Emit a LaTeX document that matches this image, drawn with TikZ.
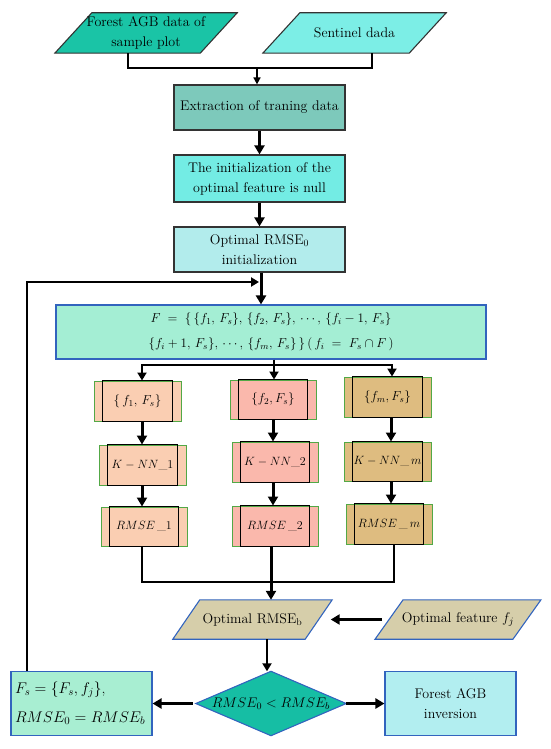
\RequirePackage{fix-cm}
\documentclass[tikz,border=0pt]{standalone}
\usepackage{fontspec}
\usetikzlibrary{arrows.meta,backgrounds}
\definecolor{cpa}{HTML}{1AC4A6}
\definecolor{csen}{HTML}{7CEEE6}
\definecolor{cext}{HTML}{7DC9BB}
\definecolor{cinit}{HTML}{73ECE4}
\definecolor{cro}{HTML}{B2ECEC}
\definecolor{cF}{HTML}{A4EED4}
\definecolor{cL}{HTML}{FACEB2}
\definecolor{cM}{HTML}{FAB8AC}
\definecolor{cR}{HTML}{DEBC80}
\definecolor{cpar}{HTML}{D6CEAA}
\definecolor{cdia}{HTML}{16BEA4}
\definecolor{cfs}{HTML}{A8EED2}
\definecolor{cfa}{HTML}{B2EEF0}
\definecolor{bblue}{HTML}{3264BE}
\definecolor{cgreen}{HTML}{52A846}
\definecolor{dgray}{HTML}{333333}
\begin{document}
\begin{tikzpicture}[x=1pt,y=-1pt,
  every node/.style={inner sep=0pt, align=center},
  tf/.style={font=\fontsize{14}{20}\selectfont},
  gbox/.style={tf, draw=dgray, line width=1.2pt},
  bbox/.style={draw=bblue, line width=1.1pt},
  colbox/.style={draw=cgreen, line width=1pt, minimum width=87pt, minimum height=40pt, font=\fontsize{12}{13}\selectfont},
  setf/.style={font=\fontsize{13}{14}\selectfont},
  parashape/.style={draw=dgray, line width=1.1pt},
  conn/.style={line width=2.6pt},
  arr/.style={line width=3pt, -{Triangle[length=9pt,width=10pt]}},
  marr/.style={line width=2.4pt, -{Triangle[length=8pt,width=9pt]}},
  tarr/.style={line width=1.6pt, -{Triangle[length=7pt,width=7pt]}}
]
\useasboundingbox (0,0) rectangle (550,749);

% top parallelograms
\node[tf, minimum width=145pt, minimum height=40pt] (p1) at (146,33) {Forest AGB data of\\sample plot};
\node[tf, minimum width=146pt, minimum height=40pt] (p2) at (354.5,33) {Sentinel dada};
\begin{scope}[on background layer]
\filldraw[fill=cpa, parashape] ([xshift=-18.5pt]p1.south west) -- ([xshift=18.5pt]p1.north west) -- ([xshift=18.5pt]p1.north east) -- ([xshift=-18.5pt]p1.south east) -- cycle;
\filldraw[fill=csen, parashape] ([xshift=-18.5pt]p2.south west) -- ([xshift=18.5pt]p2.north west) -- ([xshift=18.5pt]p2.north east) -- ([xshift=-18.5pt]p2.south east) -- cycle;
\end{scope}

% main column boxes
\node[gbox, fill=cext, minimum width=171pt, minimum height=45pt] (ext) at (259.5,107.5) {Extraction of traning data};
\node[gbox, fill=cinit, minimum width=171pt, minimum height=47pt] (init) at (259.5,178.5) {The initialization of the\\optimal feature is null};
\node[gbox, fill=cro, minimum width=171pt, minimum height=45pt] (ro) at (259.5,249.5) {Optimal RMSE\textsubscript{0}\\initialization};

\coordinate (j) at (257,68);
\draw[conn] ([xshift=-18pt]p1.south) |- (j) -| ([xshift=17.5pt]p2.south);
\draw[tarr] (j) -- (j |- ext.north);
\draw[arr] (ext) -- (init);
\draw[arr] (init) -- (ro);

% F box
\node[bbox, fill=cF, minimum width=430pt, minimum height=54pt, font=\fontsize{13}{25}\selectfont] (F) at (271,332)
 {$F\;=\;\{\,\{f_1,\,F_s\},\,\{f_2,\,F_s\},\,\cdots,\,\{f_i-1,\,F_s\}$\\
  $\{f_i+1,\,F_s\},\,\cdots,\,\{f_m,\,F_s\}\,\}\,(\,f_i\;=\;F_s\cap F\,)$};
\draw[arr] ([xshift=1.5pt]ro.south) -- ([xshift=1.5pt]ro.south |- F.north);

% column boxes
\node[colbox, setf, fill=cL] (l1) at (137.5,401) {$\{\,f_1,\,F_s\}$};
\node[colbox, fill=cL] (l2) at (142.5,465) {$K-NN\_1$};
\node[colbox, fill=cL, minimum height=39pt, minimum width=86pt] (l3) at (144,526.5) {$RMSE\,\_1$};
\node[colbox, setf, fill=cM, minimum width=86pt, minimum height=39pt] (m1) at (273,399.5) {$\{f_2,F_s\}$};
\node[colbox, fill=cM, minimum width=86pt] (m2) at (275,462) {$K-NN\_2$};
\node[colbox, fill=cM, minimum width=86pt] (m3) at (275,526) {$RMSE\,\_2$};
\node[colbox, setf, fill=cR] (r1) at (387.5,397) {$\{f_m,F_s\}$};
\node[colbox, fill=cR, minimum height=39pt] (r2) at (387.5,461.5) {$K-NN\_\,m$};
\node[colbox, fill=cR, minimum width=86pt] (r3) at (389,524) {$RMSE\,\_\,m$};
\foreach \n in {l1,l2,l3,m1,m2,m3,r1,r2,r3}
  \draw[black, line width=1.3pt] ([xshift=9pt]\n.south west) rectangle ([xshift=-9pt]\n.north east);

\coordinate (br) at (274,365);
\coordinate (cLx) at (142,0);
\coordinate (cMx) at (273,0);
\coordinate (cRx) at (391,0);
\draw[conn] ([xshift=3pt]F.south) -- (br);
\draw[marr] (br) -| ([xshift=4.5pt]l1.north);
\draw[marr] (br) -| ([xshift=4.5pt]r1.north);
\draw[marr] (br) -- (br |- m1.north);
\draw[arr] (l1.south -| cLx) -- (l2.north -| cLx);
\draw[arr] (l2.south -| cLx) -- (l3.north -| cLx);
\draw[arr] (m1.south -| cMx) -- (m2.north -| cMx);
\draw[arr] (m2.south -| cMx) -- (m3.north -| cMx);
\draw[arr] (r1.south -| cRx) -- (r2.north -| cRx);
\draw[arr] (r2.south -| cRx) -- (r3.north -| cRx);

% bottom parallelograms
\node[tf, minimum width=132pt, minimum height=39pt] (rb) at (252.5,619.5) {Optimal RMSE\textsubscript{b}};
\node[tf, minimum width=137.5pt, minimum height=39pt] (of) at (458,619.5) {Optimal feature $f_j$};
\begin{scope}[on background layer]
\filldraw[fill=cpar, draw=bblue, line width=1.1pt] ([xshift=-13.5pt]rb.south west) -- ([xshift=13.5pt]rb.north west) -- ([xshift=13.5pt]rb.north east) -- ([xshift=-13.5pt]rb.south east) -- cycle;
\filldraw[fill=cpar, draw=bblue, line width=1.1pt] ([xshift=-14pt]of.south west) -- ([xshift=14pt]of.north west) -- ([xshift=14pt]of.north east) -- ([xshift=-14pt]of.south east) -- cycle;
\end{scope}

\coordinate (jL) at (142,582);
\coordinate (jR) at (394,582);
\coordinate (jn) at (271,582);
\draw[conn] (l3.south -| jL) -- (jL) -- (jR) -- (r3.south -| jR);
\draw[arr] (m3.south -| jn) -- (jn |- rb.north);
\draw[arr, shorten <=7pt, shorten >=12pt] (of.west) -- (rb.east);

% diamond and bottom boxes
\node[minimum width=150pt, minimum height=64pt, font=\fontsize{14}{18}\selectfont] (d) at (271,703.5) {$RMSE_0<RMSE_b$};
\begin{scope}[on background layer]
\filldraw[fill=cdia, draw=bblue, line width=1.1pt] (d.west) -- (d.north) -- (d.east) -- (d.south) -- cycle;
\end{scope}
\node[bbox, fill=cfs, minimum height=64pt, text width=133pt, inner xsep=4pt, align=left, font=\fontsize{15.5}{29}\selectfont] (Fs) at (81.5,703.5)
 {\mbox{$F_s=\{F_s,f_j\}$,}\\\mbox{$RMSE_0=RMSE_b$}};
\node[bbox, fill=cfa, tf, minimum width=131pt, minimum height=64pt] (fa) at (450.5,703.5) {Forest AGB\\inversion};

\draw[marr] ([xshift=14.5pt]rb.south) -- ([xshift=14.5pt]rb.south |- d.north);
\draw[arr, shorten <=3pt] (d.west) -- (Fs.east);
\draw[arr] (d.east) -- (fa.west);

\coordinate (fb) at (259,282);
\draw[marr] ([xshift=-54.5pt]Fs.north) |- (fb);
\end{tikzpicture}
\end{document}
